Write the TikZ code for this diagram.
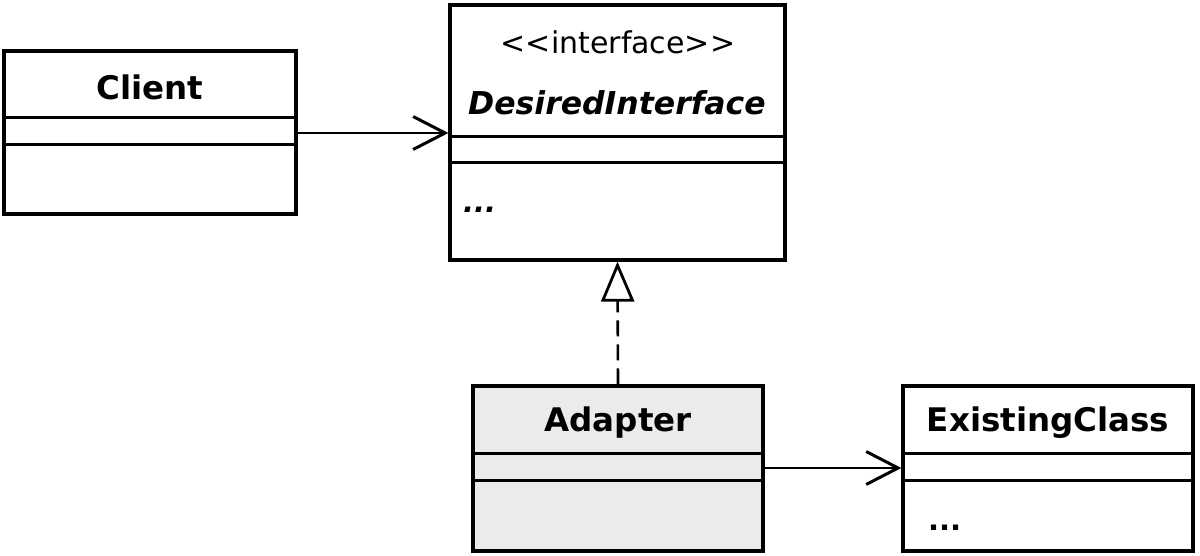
\documentclass[tikz,border=0pt]{standalone}
\usepackage{fontspec}
\setmainfont{DejaVu Sans}
\usetikzlibrary{arrows.meta}
\definecolor{adapterfill}{HTML}{EBEBEB}
\tikzset{
  umlbox/.style={draw=black, line width=3.2pt, fill=white, inner sep=0pt},
  sepline/.style={draw=black, line width=3pt},
  titletext/.style={font=\fontsize{32.5}{38}\selectfont\bfseries, inner sep=0pt},
  stereotext/.style={font=\fontsize{30}{35}\selectfont, inner sep=0pt},
  itemtext/.style={font=\fontsize{29}{34}\selectfont\bfseries, inner sep=0pt, anchor=west},
  assoc/.style={draw=black, line width=2.6pt, -{Straight Barb[length=32pt, width=33pt, line width=3pt]}},
  realize/.style={draw=black, line width=2.6pt, dash pattern=on 16pt off 8pt, -{Triangle[open, length=40pt, width=33pt, line width=2.8pt, fill=white]}}
}
\begin{document}
\begin{tikzpicture}[x=1pt, y=-1pt]
\useasboundingbox[fill=white] (0,0) rectangle (1200,556);
% Client
\node[umlbox, minimum width=292pt, minimum height=163pt] (client) at (150,132.5) {};
\node[titletext] (clientname) at (150,87) {Client};
\draw[sepline] (client.west |- 0,118) -- (client.east |- 0,118);
\draw[sepline] (client.west |- 0,145) -- (client.east |- 0,145);
% DesiredInterface
\node[umlbox, minimum width=335pt, minimum height=255pt] (desired) at (617.5,132.5) {};
\node[stereotext] (stereo) at (618,42) {<\kern0pt<interface>\kern0pt>};
\node[titletext, font=\fontsize{31.5}{38}\selectfont\bfseries\itshape] (desiredname) at (617,103) {DesiredInterface};
\draw[sepline] (desired.west |- 0,137) -- (desired.east |- 0,137);
\draw[sepline] (desired.west |- 0,163) -- (desired.east |- 0,163);
\node[itemtext, font=\fontsize{29}{34}\selectfont\bfseries\itshape] (desireddots) at (463,210) {...};
% Adapter
\node[umlbox, fill=adapterfill, minimum width=290pt, minimum height=165pt] (adapter) at (618,468.5) {};
\node[titletext] (adaptername) at (618,423) {Adapter};
\draw[sepline] (adapter.west |- 0,453) -- (adapter.east |- 0,453);
\draw[sepline] (adapter.west |- 0,480) -- (adapter.east |- 0,480);
% ExistingClass
\node[umlbox, minimum width=290pt, minimum height=165pt] (existing) at (1048,468.5) {};
\node[titletext] (existingname) at (1048,423) {ExistingClass};
\draw[sepline] (existing.west |- 0,453) -- (existing.east |- 0,453);
\draw[sepline] (existing.west |- 0,480) -- (existing.east |- 0,480);
\node[itemtext] (existingdots) at (928,528) {...};
% Connectors
\draw[assoc] (client.east |- 0,133) -- (desired.west |- 0,133);
\draw[assoc] (adapter.east |- 0,468) -- (existing.west |- 0,468);
\draw[realize] (adapter.north) -- (desired.south);
\end{tikzpicture}
\end{document}
